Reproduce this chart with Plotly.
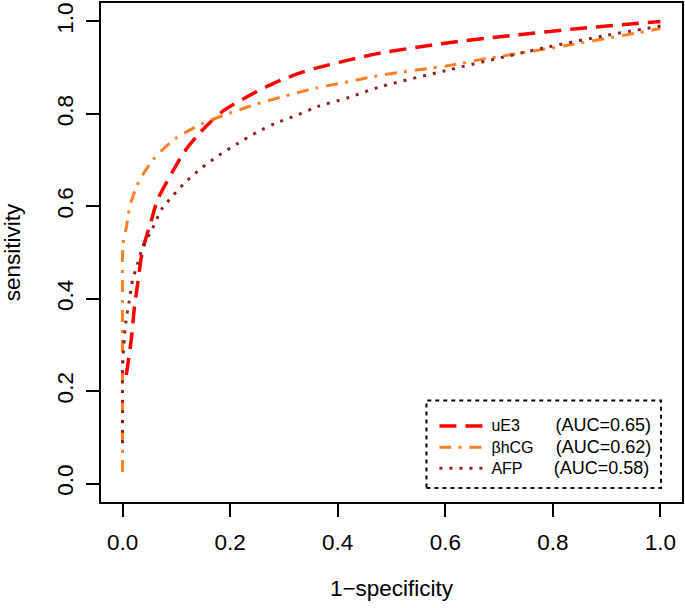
import plotly.graph_objects as go

# ---- data ----
ue3_x = [0.007, 0.016, 0.022, 0.028, 0.037, 0.053, 0.065, 0.093, 0.115, 0.14, 0.164,
         0.189, 0.23, 0.279, 0.326, 0.36, 0.422, 0.477, 0.593, 0.725, 0.85, 1.0]
ue3_y = [0.235, 0.309, 0.38, 0.431, 0.503, 0.567, 0.613, 0.675, 0.718, 0.754, 0.783,
         0.808, 0.836, 0.865, 0.887, 0.899, 0.917, 0.931, 0.952, 0.970, 0.985, 1.0]

hcg_x = [0.0, 0.0, 0.0, 0.001, 0.007, 0.0125, 0.018, 0.031, 0.059, 0.099, 0.149,
         0.205, 0.257, 0.316, 0.36, 0.422, 0.477, 0.608, 0.664, 0.825, 0.992, 1.0]
hcg_y = [0.025, 0.2, 0.395, 0.518, 0.553, 0.593, 0.617, 0.655, 0.704, 0.747, 0.779,
         0.804, 0.824, 0.843, 0.856, 0.870, 0.883, 0.905, 0.917, 0.948, 0.983, 0.985]

afp_x = [0.0, 0.0, 0.0, 0.006, 0.0125, 0.019, 0.025, 0.037, 0.056, 0.074, 0.087, 0.115,
         0.146, 0.18, 0.214, 0.251, 0.285, 0.326, 0.363, 0.422, 0.477, 0.602, 0.788,
         0.9, 1.0]
afp_y = [0.087, 0.2, 0.25, 0.348, 0.395, 0.442, 0.464, 0.51, 0.553, 0.596, 0.614, 0.65,
         0.682, 0.711, 0.736, 0.761, 0.780, 0.798, 0.816, 0.836, 0.858, 0.894, 0.944,
         0.97, 0.99]

marker_names = ["uE3", "βhCG", "AFP"]
auc_values = [0.65, 0.62, 0.58]
name_pads = [8, 5, 7]

tick_vals = [0.0, 0.2, 0.4, 0.6, 0.8, 1.0]
tick_text = ["0.0", "0.2", "0.4", "0.6", "0.8", "1.0"]

FONT = "Liberation Sans, Arial, Helvetica, sans-serif"

series = [
    (ue3_x, ue3_y, "#FF0000", "17px,9px", 3.5),
    (hcg_x, hcg_y, "#FF7F24", "12px,7px,3px,8px", 3.0),
    (afp_x, afp_y, "#8B2323", "3px,7px", 3.0),
]

fig = go.Figure()
for (xs, ys, col, dash, w), nm, auc, pad in zip(series, marker_names, auc_values, name_pads):
    label = ('<span style="font-size:16px">' + nm + "\u00a0" * pad + "</span>"
             + '<span style="font-size:18px">(AUC=%.2f)</span>' % auc)
    fig.add_trace(go.Scatter(
        x=xs, y=ys, mode="lines", name=label,
        line=dict(color=col, dash=dash, width=w, shape="spline", smoothing=0.8),
    ))

axis_common = dict(
    range=[-0.04, 1.04], tickvals=tick_vals, ticktext=tick_text,
    showgrid=False, zeroline=False, showline=True, mirror=True,
    linecolor="black", linewidth=2, ticks="outside", ticklen=13, tickwidth=2,
    tickcolor="black", tickfont=dict(family=FONT, size=22.5, color="black"),
)

fig.update_layout(
    width=685, height=608,
    margin=dict(l=101, r=2, t=1, b=106),
    plot_bgcolor="white", paper_bgcolor="white",
    font=dict(family=FONT, size=22.5, color="black"),
    xaxis=dict(**axis_common, ticklabelstandoff=6,
               title=dict(text="1\u2212specificity",
                          font=dict(family=FONT, size=22.5), standoff=26)),
    yaxis=dict(**axis_common, tickangle=-90, ticklabelstandoff=4,
               title=dict(text="sensitivity",
                          font=dict(family=FONT, size=22.5), standoff=32)),
    showlegend=True,
    legend=dict(
        x=(435 - 101) / 582, y=(502 - 410) / 501, xanchor="left", yanchor="top",
        bgcolor="rgba(0,0,0,0)", borderwidth=0, itemwidth=47,
        font=dict(family=FONT, size=14, color="black"),
        tracegroupgap=0,
    ),
    shapes=[dict(
        type="rect", xref="paper", yref="paper",
        x0=(427 - 101) / 582, x1=(662 - 101) / 582,
        y0=(502 - 488) / 501, y1=(502 - 400) / 501,
        line=dict(color="black", width=2, dash="4px,4px"),
        fillcolor="rgba(0,0,0,0)", layer="above",
    )],
)

fig.write_html("out.html", config={"displayModeBar": False},
               post_script="document.body.style.margin='0';")
